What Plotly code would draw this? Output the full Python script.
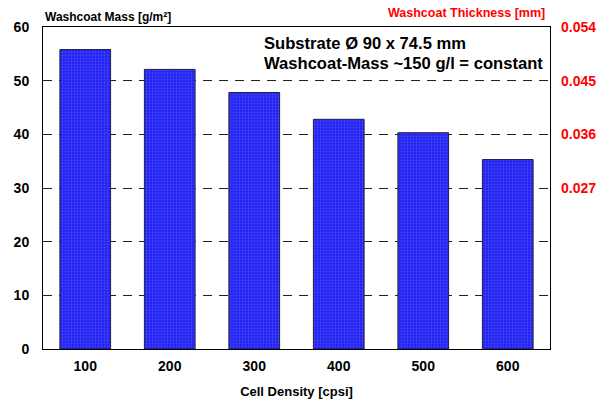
import plotly.graph_objects as go

cell_density = ["100", "200", "300", "400", "500", "600"]
washcoat_mass = [55.8, 52.1, 47.8, 42.8, 40.3, 35.3]
left_ticks = [0, 10, 20, 30, 40, 50, 60]
right_ticks = [0.027, 0.036, 0.045, 0.054]
right_tick_text = ["0.027", "0.036", "0.045", "0.054"]

FONT = "Liberation Sans, Arial, sans-serif"

fig = go.Figure()
fig.add_trace(go.Bar(
    x=cell_density, y=washcoat_mass, width=0.6,
    marker=dict(color="#2020f0",
                line=dict(color="#202040", width=1),
                pattern=dict(shape=".", fgcolor="#6a6aff", bgcolor="#1c1cf0",
                             size=3, solidity=0.45)),
    showlegend=False,
))
# invisible trace to activate right axis
fig.add_trace(go.Scatter(x=cell_density, y=[None]*6, yaxis="y2", showlegend=False,
                         hoverinfo="skip"))

fig.update_layout(
    width=608, height=400,
    margin=dict(l=43, r=58, t=27, b=51),
    paper_bgcolor="white", plot_bgcolor="white",
    font=dict(family=FONT, color="black"),
    xaxis=dict(
        type="category", showline=True, mirror=True, linecolor="black", linewidth=1,
        ticks="", tickfont=dict(size=14, family=FONT, weight="bold"),
        ticklabelstandoff=4, automargin=False,
        title=dict(text="<b>Cell Density [cpsi]</b>", font=dict(size=13), standoff=14),
    ),
    yaxis=dict(
        range=[0, 60], tickvals=left_ticks, showline=True, mirror=True,
        linecolor="black", linewidth=1, ticks="", showgrid=True,
        gridcolor="#222", griddash="9px,7px", gridwidth=1, zeroline=False,
        tickfont=dict(size=14, family=FONT, weight="bold"),
        ticklabelstandoff=10, automargin=False,
    ),
    yaxis2=dict(
        range=[0, 0.054], overlaying="y", side="right", tickvals=right_ticks,
        ticktext=["<b>%s</b>" % t for t in right_tick_text],
        showgrid=False, zeroline=False, ticks="",
        tickfont=dict(size=14, family=FONT, color="#ff0000", weight="bold"),
        ticklabelstandoff=10, automargin=False,
    ),
    bargap=0.4,
    annotations=[
        dict(text="<b>Washcoat Mass [g/m²]</b>", xref="paper", yref="paper",
             x=0.0, y=1.0, xanchor="left", yanchor="bottom", yshift=1,
             showarrow=False, font=dict(size=12, color="black")),
        dict(text="<b>Washcoat Thickness [mm]</b>", xref="paper", yref="paper",
             x=0.995, y=1.0, xanchor="right", yanchor="bottom", yshift=5,
             showarrow=False, font=dict(size=12.5, color="#ff0000")),
        dict(text="<b>Substrate Ø 90 x 74.5 mm</b>", xref="paper", yref="paper",
             x=0.432, y=0.948, xanchor="left", yanchor="middle",
             showarrow=False, font=dict(size=16.6, color="black")),
        dict(text="<b>Washcoat-Mass ~150 g/l = constant</b>", xref="paper", yref="paper",
             x=0.432, y=0.886, xanchor="left", yanchor="middle",
             showarrow=False, font=dict(size=16.6, color="black")),
    ],
)

fig.write_html("out.html")
